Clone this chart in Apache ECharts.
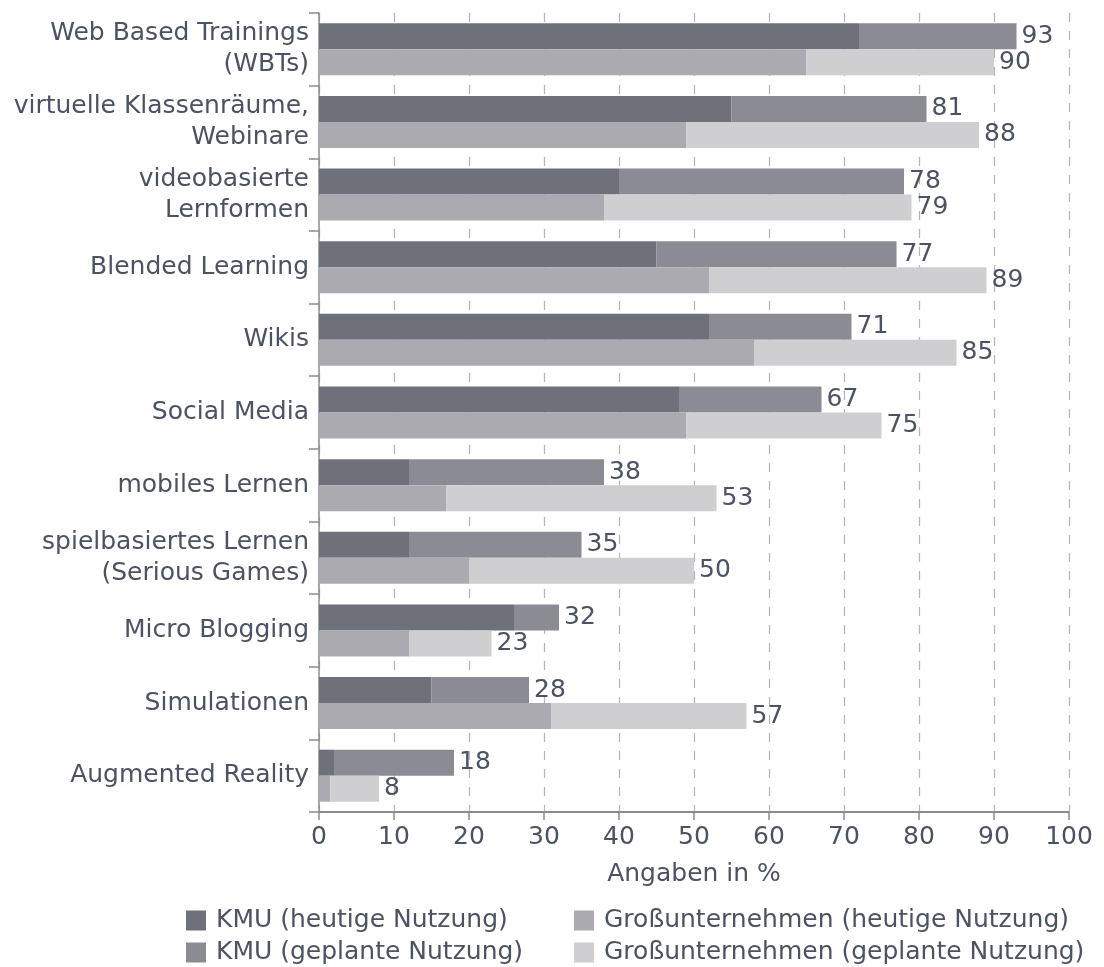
<!DOCTYPE html>
<html>
<head>
<meta charset="utf-8">
<script src="https://cdn.jsdelivr.net/npm/echarts@6/dist/echarts.min.js"></script>
<style>
html,body{margin:0;padding:0;background:#fff;}
#chart{width:1104px;height:967px;}
</style>
</head>
<body>
<div id="chart"></div>
<script>
const categories = [
  "Web Based Trainings\n(WBTs)",
  "virtuelle Klassenräume,\nWebinare",
  "videobasierte\nLernformen",
  "Blended Learning",
  "Wikis",
  "Social Media",
  "mobiles Lernen",
  "spielbasiertes Lernen\n(Serious Games)",
  "Micro Blogging",
  "Simulationen",
  "Augmented Reality"
];
const kmuHeute    = [72, 55, 40, 45, 52, 48, 12, 12, 26, 15, 2];
const kmuGeplant  = [21, 26, 38, 32, 19, 19, 26, 23, 6, 13, 16];
const grossHeute  = [65, 49, 38, 52, 58, 49, 17, 20, 12, 31, 1.5];
const grossGeplant= [25, 39, 41, 37, 27, 26, 36, 30, 11, 26, 6.5];
const kmuTotal    = [93, 81, 78, 77, 71, 67, 38, 35, 32, 28, 18];
const grossTotal  = [90, 88, 79, 89, 85, 75, 53, 50, 23, 57, 8];
const xTicks = [0, 10, 20, 30, 40, 50, 60, 70, 80, 90, 100];

const names = ["KMU (heutige Nutzung)", "KMU (geplante Nutzung)",
               "Großunternehmen (heutige Nutzung)", "Großunternehmen (geplante Nutzung)"];
const colors = ["#6e707a", "#8b8b94", "#abaab0", "#cfcfd2"];
const textColor = "#4b5261";
const sans = "'DejaVu Sans', Verdana, sans-serif";
const fs = 25;

const chart = echarts.init(document.getElementById('chart'), null, {renderer: 'canvas'});

function valLabel(totals) {
  return {
    show: true, position: 'right', distance: 5,
    fontFamily: sans, fontSize: fs, color: textColor,
    formatter: p => String(totals[p.dataIndex])
  };
}

function legendItem(name, left, top) {
  return {
    left: left, top: top, orient: 'horizontal', padding: 0,
    itemWidth: 20, itemHeight: 20, icon: 'rect', itemGap: 0,
    data: [name],
    textStyle: {fontFamily: sans, fontSize: fs, color: textColor, lineHeight: 20, padding: [0, 0, 0, 5]}
  };
}

const option = {
  animation: false,
  backgroundColor: '#fff',
  grid: {left: 319, right: 35, top: 13, bottom: 155, containLabel: false},
  xAxis: {
    type: 'value', min: 0, max: 100, interval: 10,
    axisLine: {show: true, lineStyle: {color: '#8a8c92', width: 2}},
    axisTick: {show: true, length: 8, lineStyle: {color: '#8a8c92', width: 1.5}},
    axisLabel: {fontFamily: sans, fontSize: fs, color: textColor, margin: 13,
      formatter: v => xTicks.includes(v) ? String(v) : ''},
    splitLine: {show: true, lineStyle: {color: '#b4b4b8', type: [9, 9], width: 1.2}},
    name: 'Angaben in %', nameLocation: 'middle', nameGap: 50,
    nameTextStyle: {fontFamily: sans, fontSize: fs, color: textColor}
  },
  yAxis: {
    type: 'category', data: categories, inverse: true,
    axisLine: {show: true, lineStyle: {color: '#8a8c92', width: 1.5}},
    axisTick: {show: true, length: 10, alignWithLabel: false, lineStyle: {color: '#8a8c92', width: 1.5}},
    axisLabel: {fontFamily: sans, fontSize: fs, color: textColor, margin: 10,
      lineHeight: 31, align: 'right'},
    splitLine: {show: false}
  },
  legend: [
    legendItem(names[0], 186, 908),
    legendItem(names[1], 186, 940),
    legendItem(names[2], 574, 908),
    legendItem(names[3], 574, 940)
  ],
  series: [
    {name: names[0], type: 'bar', stack: 'kmu', data: kmuHeute, barWidth: 26, barGap: '0%',
     itemStyle: {color: colors[0]}},
    {name: names[1], type: 'bar', stack: 'kmu', data: kmuGeplant, barWidth: 26, barGap: '0%',
     itemStyle: {color: colors[1]}, label: valLabel(kmuTotal)},
    {name: names[2], type: 'bar', stack: 'gross', data: grossHeute, barWidth: 26, barGap: '0%',
     itemStyle: {color: colors[2]}},
    {name: names[3], type: 'bar', stack: 'gross', data: grossGeplant, barWidth: 26, barGap: '0%',
     itemStyle: {color: colors[3]}, label: valLabel(grossTotal)}
  ]
};
chart.setOption(option);
</script>
</body>
</html>
